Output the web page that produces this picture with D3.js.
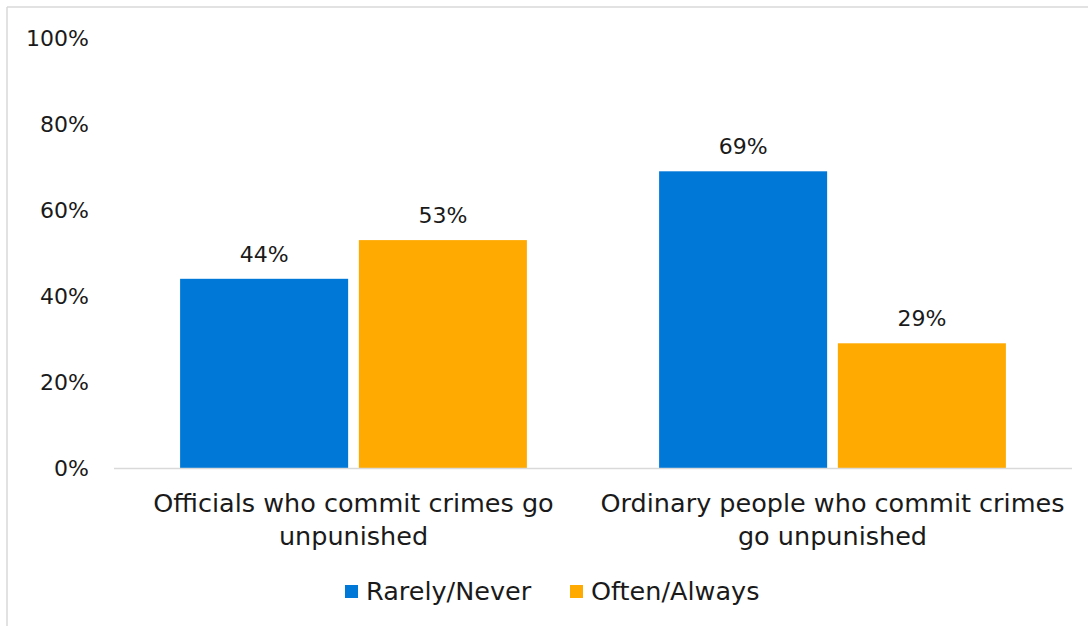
<!DOCTYPE html>
<html><head><meta charset="utf-8">
<script src="https://cdn.jsdelivr.net/npm/d3@7"></script>
<style>body{margin:0;background:#fff}svg{display:block}text{font-family:"DejaVu Sans",sans-serif;fill:#1a1a1a}</style>
</head><body><svg id="c" width="1088" height="626"></svg>
<script>
const categories = [["Officials who commit crimes go","unpunished"],["Ordinary people who commit crimes","go unpunished"]];
const seriesNames = ["Rarely/Never","Often/Always"];
const rarelyNever = [44, 69];
const oftenAlways = [53, 29];
const yTicks = [0,20,40,60,80,100];
const colors = ["#0078d7","#ffaa00"];

(function(){
const svg = d3.select("#c");
svg.append("line").attr("x1",7).attr("x2",1088).attr("y1",7).attr("y2",7).attr("stroke","#d9d9d9").attr("stroke-width",1.5);
svg.append("line").attr("x1",7).attr("x2",7).attr("y1",7).attr("y2",626).attr("stroke","#d9d9d9").attr("stroke-width",1.5);

const pL=114, pR=1072, pT=38, pB=468;
const y = d3.scaleLinear().domain([0,100]).range([pB,pT]);
const x0 = d3.scaleBand().domain(d3.range(categories.length)).range([pL,pR]).paddingInner(0.276).paddingOuter(0.138);
const x1 = d3.scaleBand().domain(d3.range(seriesNames.length)).range([0,x0.bandwidth()]).paddingInner(0.06);

const yAxis = d3.axisLeft(y).tickValues(yTicks).tickFormat(d=>d+"%").tickSize(0).tickPadding(0);
const ga = svg.append("g").attr("transform",`translate(89,0)`).call(yAxis);
ga.select(".domain").remove();
ga.selectAll("text").attr("font-size",22).attr("fill","#1a1a1a").attr("font-family","DejaVu Sans");

const data = [rarelyNever, oftenAlways];
data.forEach((vals,si)=>{
  vals.forEach((v,ci)=>{
    const bx = x0(ci)+x1(si);
    svg.append("rect").attr("x",bx).attr("y",y(v)).attr("width",x1.bandwidth()).attr("height",y(0)-y(v)).attr("fill",colors[si]);
    svg.append("text").attr("x",bx+x1.bandwidth()/2).attr("y",y(v)-17).attr("text-anchor","middle").attr("font-size",22).text(v+"%");
  });
});
svg.append("line").attr("x1",pL).attr("x2",pR).attr("y1",pB+0.5).attr("y2",pB+0.5).attr("stroke","#d9d9d9").attr("stroke-width",1.5);

categories.forEach((lines,ci)=>{
  const cx = x0(ci)+x0.bandwidth()/2;
  const t = svg.append("text").attr("text-anchor","middle").attr("font-size",25.5);
  lines.forEach((l,i)=>t.append("tspan").attr("x",cx).attr("y",512+i*33).text(l));
});

const legX=[345,570];
seriesNames.forEach((n,i)=>{
  svg.append("rect").attr("x",legX[i]).attr("y",585).attr("width",13).attr("height",13).attr("fill",colors[i]);
  svg.append("text").attr("x",legX[i]+21).attr("y",600).attr("font-size",25.5).text(n);
});
})();
</script></body></html>
